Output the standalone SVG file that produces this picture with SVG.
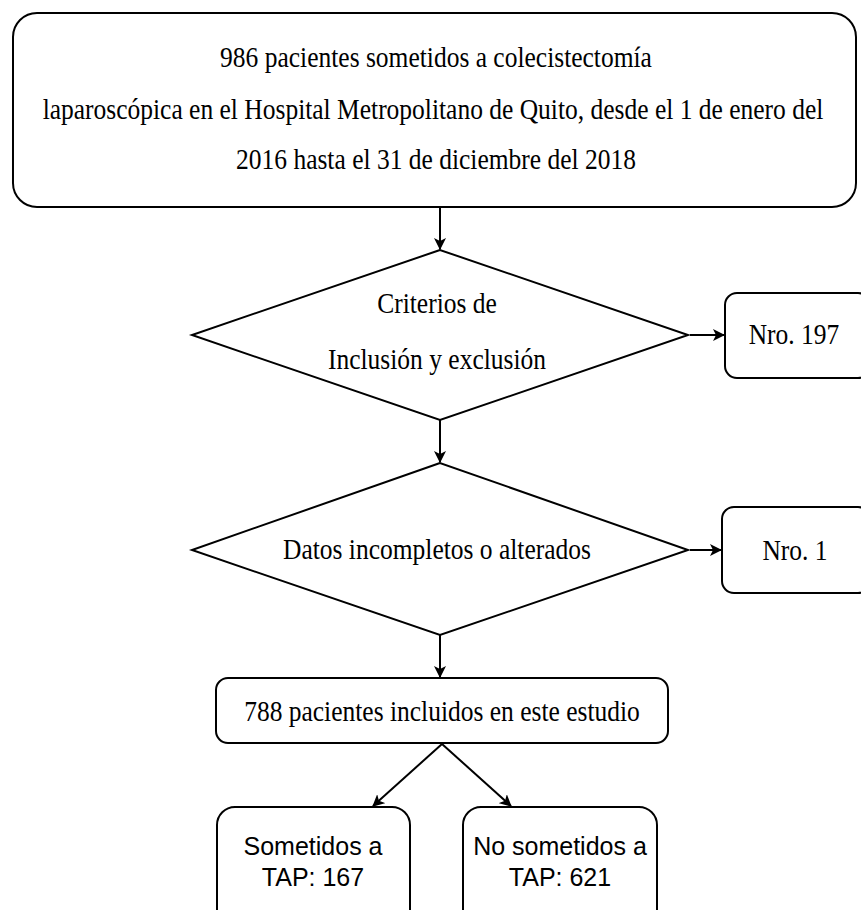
<svg xmlns="http://www.w3.org/2000/svg" width="861" height="910" viewBox="0 0 861 910">
<style>
.box{fill:#fff;stroke:#000;stroke-width:2}
.ln{fill:none;stroke:#000;stroke-width:2}
.serif{font-family:'Liberation Serif', 'DejaVu Serif', serif;font-size:25.5px;fill:#000;text-anchor:middle}
.sans{font-family:'Liberation Sans', Arial, sans-serif;font-size:25px;fill:#000;text-anchor:middle}
</style>
<defs>
<marker id="ah" viewBox="0 0 12 12" refX="11" refY="6" markerWidth="12" markerHeight="12" markerUnits="userSpaceOnUse" orient="auto">
<path d="M0,0 L12,6 L0,12 L3,6 Z" fill="#000"/>
</marker>
</defs>
<rect width="861" height="910" fill="#fff"/>
<g id="connectors">
<line class="ln" x1="440" y1="207" x2="440" y2="249" marker-end="url(#ah)"/>
<line class="ln" x1="690" y1="335" x2="724" y2="335" marker-end="url(#ah)"/>
<line class="ln" x1="440" y1="420" x2="440" y2="462" marker-end="url(#ah)"/>
<line class="ln" x1="690" y1="550" x2="721" y2="550" marker-end="url(#ah)"/>
<line class="ln" x1="440" y1="635" x2="440" y2="677" marker-end="url(#ah)"/>
<line class="ln" x1="442" y1="744" x2="373" y2="806" marker-end="url(#ah)"/>
<line class="ln" x1="442" y1="744" x2="511" y2="806" marker-end="url(#ah)"/>
</g>
<g id="inicio">
<rect class="box" x="13" y="13" width="843" height="194" rx="24" ry="24"/>
<text class="serif" transform="translate(436,67) scale(1,1.12)">986 pacientes sometidos a colecistectomía</text>
<text class="serif" transform="translate(433,119) scale(1,1.12)">laparoscópica en el Hospital Metropolitano de Quito, desde el 1 de enero del</text>
<text class="serif" transform="translate(436,169) scale(1,1.12)">2016 hasta el 31 de diciembre del 2018</text>
</g>
<g id="criterios">
<polygon class="box" points="440,250 192,335 440,420 688,335"/>
<text class="serif" transform="translate(437,313) scale(1,1.12)">Criterios de</text>
<text class="serif" transform="translate(437,369) scale(1,1.12)">Inclusión y exclusión</text>
</g>
<g id="nro197">
<rect class="box" x="725" y="293" width="145" height="85" rx="12" ry="12"/>
<text class="serif" transform="translate(794,344) scale(1,1.12)">Nro. 197</text>
</g>
<g id="datos">
<polygon class="box" points="440,463 192,550 440,635 688,550"/>
<text class="serif" transform="translate(437,559) scale(1,1.12)">Datos incompletos o alterados</text>
</g>
<g id="nro1">
<rect class="box" x="722" y="507" width="148" height="86" rx="12" ry="12"/>
<text class="serif" transform="translate(795,560) scale(1,1.12)">Nro. 1</text>
</g>
<g id="incluidos">
<rect class="box" x="216" y="678" width="452" height="65" rx="12" ry="12"/>
<text class="serif" transform="translate(442,721) scale(1,1.12)">788 pacientes incluidos en este estudio</text>
</g>
<g id="sometidos">
<rect class="box" x="217" y="807" width="193" height="120" rx="18" ry="18"/>
<text class="sans" x="313" y="855">Sometidos a</text>
<text class="sans" x="313" y="886">TAP: 167</text>
</g>
<g id="nosometidos">
<rect class="box" x="463" y="807" width="194" height="120" rx="18" ry="18"/>
<text class="sans" x="560" y="855">No sometidos a</text>
<text class="sans" x="560" y="886">TAP: 621</text>
</g>
</svg>
